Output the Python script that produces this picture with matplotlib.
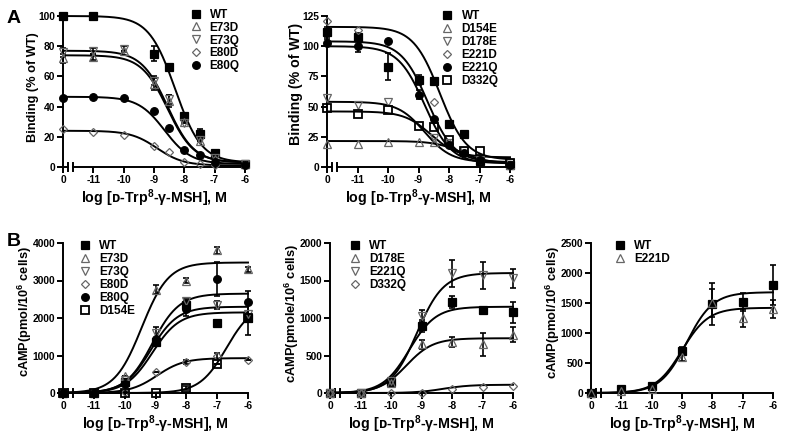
import numpy as np
import matplotlib
matplotlib.use("Agg")
import matplotlib.pyplot as plt

plt.rcParams['font.family'] = ['Liberation Sans', 'DejaVu Sans']
plt.rcParams['font.weight'] = 'bold'
plt.rcParams['mathtext.fontset'] = 'custom'
plt.rcParams['mathtext.rm'] = 'Liberation Sans:bold'
plt.rcParams['mathtext.bf'] = 'Liberation Sans:bold'
plt.rcParams['mathtext.it'] = 'Liberation Sans:bold:italic'

## DATA
# the zero dose is drawn at -12 on the log axis (Prism style axis break)
ZERO = -12
xA = [ZERO, -11, -10, -9, -8.5, -8, -7.5, -7, -6]
xB = [ZERO, -11, -10, -9, -8, -7, -6]
nan = np.nan

# A left: binding, % of WT
a1_names = ['WT', 'E73D', 'E73Q', 'E80D', 'E80Q']
a1_wt = [100, 100, nan, 75, 66, 34, 22, 9, 2]
a1_e73d = [72, 73, 77, 55, 44, 30, 17, 5, 2]
a1_e73q = [76, 77, 78, 57, 45, 29, 18, 6, 2]
a1_e80d = [25, 23, 21, 14, 10, 3, 2, 1, 1]
a1_e80q = [46, 46.5, 46, 37, 26, 11, 8, 3, 1.5]
a1_wt_err = [2, 1, 0, 5, 0, 0, 3, 1, 0]
a1_e73d_err = [3, 2, 0, 4, 4, 0, 0, 0, 0]
a1_e73q_err = [3, 2, 2, 3, 3, 0, 0, 0, 0]
# curve params: top, bottom, logIC50
a1_fit = {'WT': (100, 3, -8.3), 'E73D': (74, 3, -8.55), 'E73Q': (77, 3, -8.55),
          'E80D': (24, 1, -8.9), 'E80Q': (46.5, 2, -8.65)}

# A right
a2_names = ['WT', 'D154E', 'D178E', 'E221D', 'E221Q', 'D332Q']
a2_wt = [112, 108, 83, 72, 71, 36, 27, 5, 1.5]
a2_d154e = [19, 19, 21, 21, 21, nan, nan, nan, 2]
a2_d178e = [57, 51, 54, nan, 24, 20, 13, 6, 3]
a2_e221d = [121, 113, nan, nan, 54, 20, 12, 6, 2]
a2_e221q = [103, 100, 104, 60, 40, 18, 12, 6, 2]
a2_d332q = [49, 44, 47, 34, 33, 22, 13, 13, 3]
a2_wt_err = [4, 3, 11, 4, 0, 0, 0, 0, 0]
a2_e221q_err = [3, 5, 0, 4, 0, 0, 0, 0, 0]
a2_fit = {'WT': (116, 6, -8.3), 'D154E': (21.5, 3, -7.6), 'D178E': (54, 4, -8.8),
          'E221D': (104, 4, -8.7), 'E221Q': (100, 3, -8.8), 'D332Q': (46, 8, -8.6)}

# B left: cAMP
b1_names = ['WT', 'E73D', 'E73Q', 'E80D', 'E80Q', 'D154E']
b1_wt = [0, 0, 300, 1350, 2350, 1870, 2000]
b1_e73d = [0, 0, 450, 2750, 3000, 3800, 3300]
b1_e73q = [0, 0, 350, 1600, 2450, 2350, 2100]
b1_e80d = [0, 0, 30, 550, 820, 1000, 870]
b1_e80q = [0, 0, 250, 1450, 2250, 3050, 2420]
b1_d154e = [0, 0, 0, 0, 130, 770, 2000]
b1_wt_err = [0, 0, 0, 100, 150, 0, 450]
b1_e73d_err = [0, 0, 0, 120, 60, 100, 60]
b1_e73q_err = [0, 0, 0, 150, 0, 100, 0]
b1_e80d_err = [0, 0, 0, 0, 50, 80, 0]
b1_e80q_err = [0, 0, 0, 0, 200, 450, 300]
b1_d154e_err = [0, 0, 0, 0, 60, 0, 0]
# top, bottom, logEC50
b1_fit = {'WT': (2150, 0, -9.1), 'E73D': (3480, 0, -9.45), 'E73Q': (2300, 0, -9.15),
          'E80D': (930, 0, -8.95), 'E80Q': (2650, 0, -9.1), 'D154E': (2400, 0, -6.7)}

# B middle
b2_names = ['WT', 'D178E', 'E221Q', 'D332Q']
b2_wt = [0, 0, 150, 890, 1220, 1110, 1080]
b2_d178e = [0, 0, 140, 650, 680, 650, 780]
b2_e221q = [0, 0, 160, 1030, 1600, 1570, 1530]
b2_d332q = [0, 0, 0, 0, 60, 80, 100]
b2_wt_err = [0, 0, 0, 80, 80, 0, 140]
b2_d178e_err = [0, 0, 0, 60, 70, 150, 100]
b2_e221q_err = [0, 0, 0, 80, 180, 180, 130]
b2_fit = {'WT': (1150, 0, -9.4), 'D178E': (730, 0, -9.5), 'E221Q': (1600, 0, -9.15),
          'D332Q': (110, 0, -8.3)}

# B right
b3_names = ['WT', 'E221D']
b3_wt = [0, 60, 110, 700, 1480, 1520, 1800]
b3_e221d = [0, 40, 60, 600, 1500, 1250, 1400]
b3_wt_err = [0, 0, 0, 60, 350, 150, 330]
b3_e221d_err = [0, 0, 0, 60, 230, 150, 150]
b3_fit = {'WT': (1680, 0, -8.85), 'E221D': (1420, 0, -9.0)}

xticks = [ZERO, -11, -10, -9, -8, -7, -6]
xticklabels = ['0', '-11', '-10', '-9', '-8', '-7', '-6']
xlabel = 'log [\u1d05-Trp$^{8}$-\u03b3-MSH], M'

## STYLES
GRAY = '#666666'
style = {
    'WT': dict(marker='s', mfc='k', mec='k'),
    'E73D': dict(marker='^', mfc='none', mec=GRAY),
    'E73Q': dict(marker='v', mfc='none', mec=GRAY),
    'E80D': dict(marker='D', mfc='none', mec=GRAY, ms=3.8),
    'E80Q': dict(marker='o', mfc='k', mec='k'),
    'D154E': dict(marker='^', mfc='none', mec=GRAY),
    'D178E': dict(marker='v', mfc='none', mec=GRAY),
    'E221D': dict(marker='D', mfc='none', mec=GRAY, ms=3.8),
    'E221Q': dict(marker='o', mfc='k', mec='k'),
    'D332Q': dict(marker='s', mfc='none', mec='k', mew=1.3),
}
# B panels use different symbols for a few names
styleB = dict(style)
styleB['D154E'] = dict(marker='s', mfc='none', mec='k', mew=1.3)
styleB['D178E'] = dict(marker='^', mfc='none', mec=GRAY)
styleB['E221Q'] = dict(marker='v', mfc='none', mec=GRAY)
styleB['D332Q'] = dict(marker='D', mfc='none', mec=GRAY, ms=3.8)
styleB['E221D'] = dict(marker='^', mfc='none', mec=GRAY)

W, H = 793, 444
fig = plt.figure(figsize=(W / 100, H / 100), dpi=100)


def rect(l, r, t, b):
    return [l / W, 1 - b / H, (r - l) / W, (b - t) / H]


def curve(ax, p, decreasing):
    top, bot, c = p
    xx = np.linspace(ZERO, -6, 300)
    if decreasing:
        yy = bot + (top - bot) / (1 + 10 ** (xx - c))
    else:
        yy = bot + (top - bot) / (1 + 10 ** (c - xx))
    ax.plot(xx, yy, color='k', lw=1.4, zorder=2, clip_on=False)


def panel(ax, x, names, series, errs, fits, sty, ylim, yticks, ylabel, ylsize, ylpos,
          decreasing, leg_anchor):
    handles = []
    for n in names:
        curve(ax, fits[n], decreasing)
    for n, y in zip(names, series):
        s = dict(ms=5.5, mew=0.9)
        s.update(sty[n])
        if n in errs:
            ax.errorbar(x, y, yerr=errs[n], fmt='none', ecolor='k', elinewidth=1.2,
                        capsize=2.5, capthick=1.2, zorder=3, clip_on=False)
        h, = ax.plot(x, y, ls='none', zorder=4, clip_on=False, label=n, **s)
        handles.append(h)
    ax.set_xlim(ZERO, -6)
    ax.set_ylim(*ylim)
    ax.set_yticks(yticks)
    ax.set_xticks(xticks)
    ax.set_xticklabels(xticklabels)
    ax.set_ylabel(ylabel, fontsize=ylsize, fontweight='bold')
    # label's right edge given in pixels from the y axis, height as axes fraction
    bbox = ax.get_position()
    ax.yaxis.set_label_coords(ylpos[0] / (bbox.width * W), ylpos[1])
    ax.set_xlabel(xlabel, fontsize=10.3, fontweight='bold', labelpad=2)
    for sp in ['top', 'right', 'bottom']:
        ax.spines[sp].set_visible(False)
    ax.spines['left'].set_linewidth(1.4)
    ax.tick_params(width=1.4, length=4, labelsize=7.4, pad=1.5)
    for lab in ax.get_xticklabels() + ax.get_yticklabels():
        lab.set_fontweight('bold')
    # broken x axis
    y0 = ylim[0]
    b1, b2 = -11.83, -11.67
    ax.plot([ZERO, b1], [y0, y0], color='k', lw=1.4, clip_on=False, zorder=1)
    ax.plot([b2, -6], [y0, y0], color='k', lw=1.4, clip_on=False, zorder=1)
    dy = (ylim[1] - ylim[0]) * 0.025
    for bx in (b1, b2):
        ax.plot([bx, bx], [y0 - dy, y0 + dy], color='k', lw=1.4, clip_on=False, zorder=1)
    ax.legend(handles=handles, loc='upper left', bbox_to_anchor=leg_anchor,
              frameon=False, handlelength=1.0, handletextpad=0.7,
              labelspacing=0.08, borderaxespad=0, prop={'weight': 'bold', 'size': 8.5})


ax1 = fig.add_axes(rect(63, 245, 16, 167))
panel(ax1, xA, a1_names, [a1_wt, a1_e73d, a1_e73q, a1_e80d, a1_e80q],
      {'WT': a1_wt_err, 'E73D': a1_e73d_err, 'E73Q': a1_e73q_err}, a1_fit, style,
      (0, 100), [0, 20, 40, 60, 80, 100], 'Binding (% of WT)', 9.2, (-24, 0.53),
      True, (0.67, 1.08))

ax2 = fig.add_axes(rect(327, 510, 16, 167))
panel(ax2, xA, a2_names, [a2_wt, a2_d154e, a2_d178e, a2_e221d, a2_e221q, a2_d332q],
      {'WT': a2_wt_err, 'E221Q': a2_e221q_err}, a2_fit, style,
      (0, 125), [0, 25, 50, 75, 100, 125], 'Binding (% of WT)', 10.2, (-24, 0.55),
      True, (0.6, 1.07))

ax3 = fig.add_axes(rect(63, 248, 243, 393))
panel(ax3, xB, b1_names, [b1_wt, b1_e73d, b1_e73q, b1_e80d, b1_e80q, b1_d154e],
      {'WT': b1_wt_err, 'E73D': b1_e73d_err, 'E73Q': b1_e73q_err, 'E80D': b1_e80d_err,
       'E80Q': b1_e80q_err, 'D154E': b1_d154e_err}, b1_fit, styleB,
      (0, 4000), [0, 1000, 2000, 3000, 4000], 'cAMP(pmol/10$^{6}$ cells)', 9.2,
      (-29, 0.54), False, (0.06, 1.05))

ax4 = fig.add_axes(rect(330, 513, 243, 393))
panel(ax4, xB, b2_names, [b2_wt, b2_d178e, b2_e221q, b2_d332q],
      {'WT': b2_wt_err, 'D178E': b2_d178e_err, 'E221Q': b2_e221q_err}, b2_fit, styleB,
      (0, 2000), [0, 500, 1000, 1500, 2000], 'cAMP(pmole/10$^{6}$ cells)', 9.3,
      (-29, 0.53), False, (0.08, 1.05))

ax5 = fig.add_axes(rect(591, 773, 243, 393))
panel(ax5, xB, b3_names, [b3_wt, b3_e221d],
      {'WT': b3_wt_err, 'E221D': b3_e221d_err}, b3_fit, styleB,
      (0, 2500), [0, 500, 1000, 1500, 2000, 2500], 'cAMP(pmol/10$^{6}$ cells)', 9.4,
      (-29, 0.54), False, (0.1, 1.05))

fig.text(7 / W, 1 - 23 / H, 'A', fontsize=14, fontweight='bold')
fig.text(7 / W, 1 - 246 / H, 'B', fontsize=14, fontweight='bold')

fig.savefig('out.png', dpi=100)
